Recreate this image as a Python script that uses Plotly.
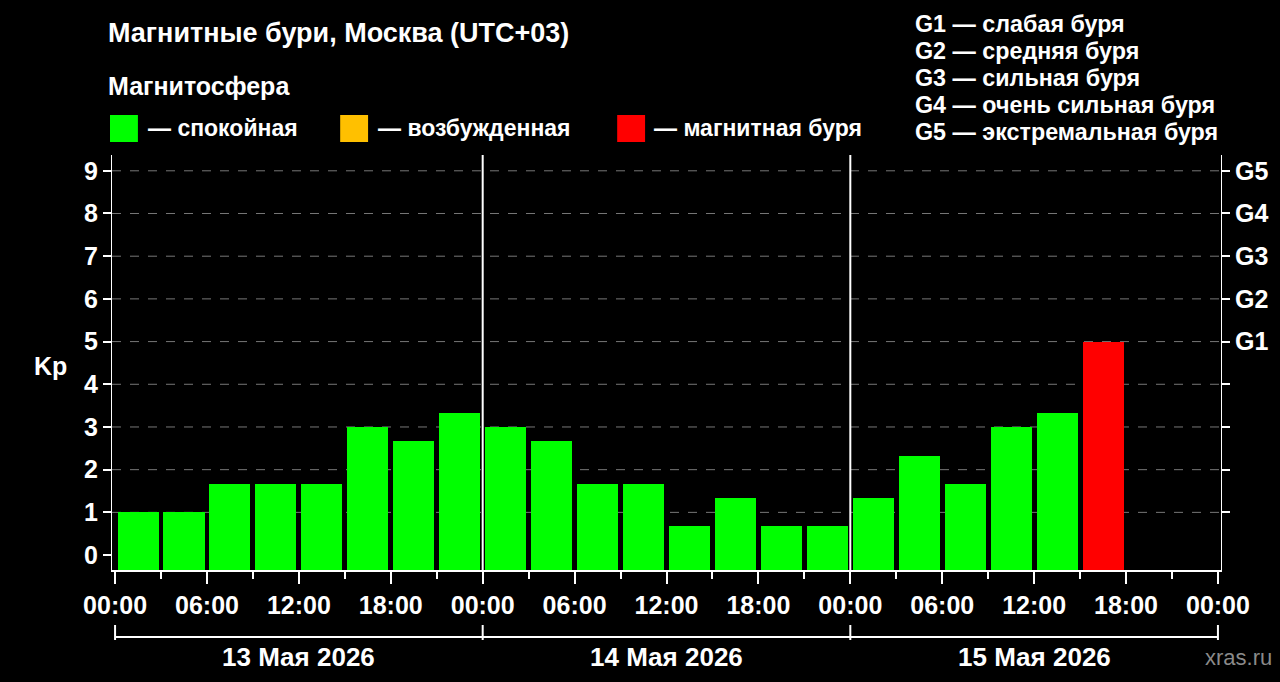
import plotly.graph_objects as go

# Kp index, 3-hour intervals starting 13 May 2026 00:00
kp = [1, 1, 1.67, 1.67, 1.67, 3, 2.67, 3.33,
      3, 2.67, 1.67, 1.67, 0.67, 1.33, 0.67, 0.67,
      1.33, 2.33, 1.67, 3, 3.33, 5]
days = ['13 Мая 2026', '14 Мая 2026', '15 Мая 2026']
hour_labels = ['00:00', '06:00', '12:00', '18:00']
g_levels = ['G1', 'G2', 'G3', 'G4', 'G5']

YMIN, YMAX = -0.35, 9.37
L, R, T, B = 112, 1225, 155, 570
W, H = R - L, B - T


def px(x):
    return (x - L) / W


def py(y):
    return (B - y) / H


def colour(v):
    if v >= 5:
        return '#ff0000'
    if v >= 4:
        return '#ffc000'
    return '#00ff00'


hours = [1.5 + 3 * i for i in range(len(kp))]
fig = go.Figure()
fig.add_trace(go.Bar(
    x=hours, y=[v - YMIN for v in kp], base=YMIN, width=2.68,
    marker=dict(color=[colour(v) for v in kp], line=dict(width=0)),
    customdata=kp, hovertemplate='Kp %{customdata}<extra></extra>',
))
# invisible trace to enable right axis
fig.add_trace(go.Scatter(x=[0], y=[0], yaxis='y2', mode='markers',
                         marker=dict(opacity=0), hoverinfo='skip', showlegend=False))

FAM = 'Liberation Sans, Arial'
bold = dict(family=FAM, size=25, color='white', weight='bold')
tickvals = list(range(0, 73, 6))
ticktext = [hour_labels[(h // 6) % 4] for h in tickvals]

fig.update_layout(
    width=1280, height=682, showlegend=False,
    paper_bgcolor='black', plot_bgcolor='black',
    margin=dict(l=L, r=1280 - R, t=T, b=682 - B),
    bargap=0,
    xaxis=dict(range=[-0.2, 72.2], tickvals=tickvals, ticktext=ticktext,
               ticks='outside', ticklen=12, tickwidth=2, tickcolor='white',
               minor=dict(tickvals=list(range(3, 72, 6)), ticks='outside',
                          ticklen=7, tickwidth=2, tickcolor='white'),
               showgrid=False, zeroline=False, showline=True, linecolor='white',
               linewidth=2, tickfont=bold, fixedrange=True),
    yaxis=dict(range=[YMIN, YMAX], tickvals=list(range(10)), ticks='outside',
               ticklen=8, tickwidth=2, tickcolor='white', showline=True,
               linecolor='white', linewidth=1, showgrid=False, zeroline=False,
               tickfont=bold, fixedrange=True),
    yaxis2=dict(range=[YMIN, YMAX], overlaying='y', side='right',
                tickvals=list(range(1, 10)), ticktext=['', '', '', ''] + g_levels,
                ticks='outside', ticklen=8, tickwidth=2, tickcolor='white',
                showline=True, linecolor='white', linewidth=1, showgrid=False,
                zeroline=False, tickfont=bold, fixedrange=True),
)

shapes = []
for v in range(1, 10):
    shapes.append(dict(type='line', xref='paper', yref='y', x0=0, x1=1, y0=v, y1=v,
                       line=dict(color='#777777', width=1, dash='dash'), layer='below'))
for d in (24, 48):
    shapes.append(dict(type='line', xref='x', yref='paper', x0=d, x1=d, y0=0, y1=1,
                       line=dict(color='white', width=2)))
# day bracket below the axis
shapes.append(dict(type='line', xref='x', yref='paper', x0=0, x1=72,
                   y0=py(637), y1=py(637), line=dict(color='white', width=2)))
for d in (0, 24, 48, 72):
    shapes.append(dict(type='line', xref='x', yref='paper', x0=d, x1=d,
                       y0=py(625), y1=py(640), line=dict(color='white', width=2)))
# legend swatches
for x0, c in ((110, '#00ff00'), (341, '#ffc000'), (619, '#ff0000')):
    shapes.append(dict(type='rect', xref='paper', yref='paper', x0=px(x0), x1=px(x0 + 28),
                       y0=py(142), y1=py(115), fillcolor=c, line=dict(width=0)))
fig.update_layout(shapes=shapes)

ann = []
for i, d in enumerate(days):
    ann.append(dict(x=12 + 24 * i, xref='x', y=py(657), yref='paper', text=d,
                    yanchor='middle', showarrow=False,
                    font=dict(family=FAM, size=26, color='white', weight='bold')))


def txt(x, y, s, size=23, anchor='left', color='white', b=True):
    ann.append(dict(x=px(x), y=py(y), xref='paper', yref='paper',
                    text=f'<b>{s}</b>' if b else s, showarrow=False,
                    xanchor=anchor, yanchor='middle',
                    font=dict(family=FAM, size=size, color=color)))


txt(106, 33, 'Магнитные бури, Москва (UTC+03)', size=27)
txt(106, 86, 'Магнитосфера', size=25)
txt(146, 128, '— спокойная')
txt(377, 128, '— возбужденная')
txt(654, 128, '— магнитная буря')
for i, s in enumerate(['G1 — слабая буря', 'G2 — средняя буря', 'G3 — сильная буря',
                       'G4 — очень сильная буря', 'G5 — экстремальная буря']):
    txt(916, 24 + 27 * i, s, size=23.3)
txt(32, 366, 'Kp', size=25)
txt(1278, 657, 'xras.ru', size=22, anchor='right', color='#8a8a8a', b=False)
fig.update_layout(annotations=ann)

fig.write_html('out.html', config={'displayModeBar': False},
               post_script="document.body.style.margin='0';")
